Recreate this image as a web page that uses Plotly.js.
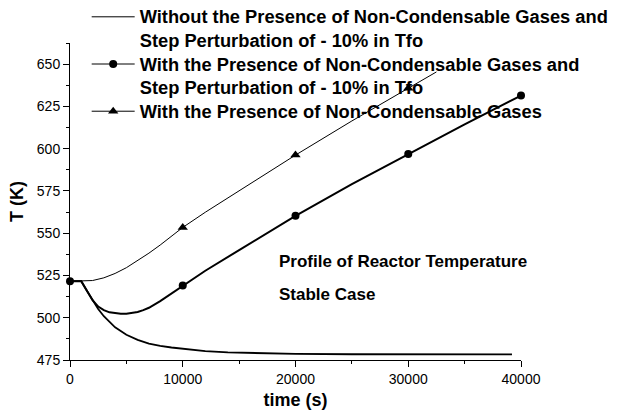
<!DOCTYPE html>
<html>
<head>
<meta charset="utf-8">
<script src="https://cdn.plot.ly/plotly-3.0.1.min.js"></script>
<style>
html,body{margin:0;padding:0;background:#fff;}
#chart{width:626px;height:410px;}
#chart .legend .legendtext{font-size:18.3px !important;}
#chart .legend .scrollbox{clip-path:none !important;}
</style>
</head>
<body>
<div id="chart"></div>
<script>
// Series 1: Without NCG, step perturbation -10% in Tfo
const timeWithout = [0, 1000, 1500, 2000, 2500, 3000, 3500, 4000, 5000, 6000, 7000, 8000, 9000, 10000, 12000, 14000, 17000, 20000, 25000, 30000, 39200];
const tempWithout = [521.6, 521.6, 516.0, 510.3, 505.2, 500.9, 497.3, 494.3, 489.9, 486.9, 484.7, 483.3, 482.4, 481.6, 480.3, 479.5, 478.9, 478.6, 478.4, 478.3, 478.3];

// Series 2: With NCG and step perturbation -10% in Tfo (circles)
const timeWithPert = [0, 1000, 1500, 2000, 2500, 3000, 3500, 4000, 4500, 5000, 5500, 6000, 6500, 7000, 8000, 9000, 10000, 12000, 15000, 20000, 25000, 30000, 35000, 40000];
const tempWithPert = [521.6, 521.6, 516.0, 510.4, 506.6, 504.5, 503.2, 502.6, 502.3, 502.35, 502.7, 503.4, 504.5, 505.9, 509.8, 514.3, 519.1, 527.8, 540.0, 560.3, 579.0, 596.8, 614.3, 631.4];
const circleTime = [0, 10000, 20000, 30000, 40000];
const circleTemp = [521.6, 519.1, 560.3, 596.8, 631.4];

// Series 3: With NCG (triangles)
const timeWithNCG = [0, 1000, 2000, 3000, 4000, 5000, 6000, 7000, 8000, 9000, 10000, 12000, 15000, 20000, 25000, 30000, 32500];
const tempWithNCG = [521.6, 521.6, 522.0, 523.6, 526.2, 529.6, 533.7, 538.2, 543.0, 548.3, 553.4, 562.4, 575.2, 596.2, 616.4, 635.8, 645.4];
const triangleTime = [10000, 20000, 30000];
const triangleTemp = [553.4, 596.2, 635.8];

const names = [
  '<b>Without the Presence of Non-Condensable Gases and<br>Step Perturbation of - 10% in Tfo</b>',
  '<b>With the Presence of Non-Condensable Gases and<br>Step Perturbation of - 10% in Tfo</b>',
  '<b>With the Presence of Non-Condensable Gases</b>'
];
const annoTexts = ['<b>Profile of Reactor Temperature</b>', '<b>Stable Case</b>'];

const traces = [
  {x: timeWithNCG, y: tempWithNCG, mode: 'lines', line: {color: '#000', width: 1}, showlegend: false},
  {x: timeWithout, y: tempWithout, mode: 'lines', line: {color: '#000', width: 1.8}, showlegend: false},
  {x: timeWithPert, y: tempWithPert, mode: 'lines', line: {color: '#000', width: 2}, showlegend: false},
  {x: triangleTime, y: triangleTemp, mode: 'markers', marker: {symbol: 'triangle-up', size: 9, color: '#000'}, showlegend: false, cliponaxis: false},
  {x: circleTime, y: circleTemp, mode: 'markers', marker: {symbol: 'circle', size: 8, color: '#000'}, showlegend: false, cliponaxis: false},
  // legend entries
  {x: [null], y: [null], mode: 'lines', name: names[0], line: {color: '#000', width: 1}},
  {x: [null], y: [null], mode: 'lines+markers', name: names[1], line: {color: '#000', width: 1}, marker: {symbol: 'circle', size: 8, color: '#000'}},
  {x: [null], y: [null], mode: 'lines+markers', name: names[2], line: {color: '#000', width: 1}, marker: {symbol: 'triangle-up', size: 9, color: '#000'}}
];

const layout = {
  width: 626, height: 410,
  margin: {l: 70, r: 105, t: 43, b: 50, pad: 0, autoexpand: false},
  paper_bgcolor: '#fff', plot_bgcolor: '#fff',
  font: {family: '"Liberation Sans", Arial, sans-serif', color: '#000', size: 14},
  xaxis: {
    range: [0, 40000], tick0: 0, dtick: 10000, tickformat: 'd',
    ticks: 'outside', ticklen: 6, tickwidth: 1, tickcolor: '#000',
    showline: true, linecolor: '#000', linewidth: 1,
    showgrid: false, zeroline: false,
    minor: {dtick: 5000, ticks: 'outside', ticklen: 3, tickcolor: '#000', showgrid: false},
    tickfont: {size: 14},
    title: {text: '<b>time (s)</b>', font: {size: 18}, standoff: 8}
  },
  yaxis: {
    range: [475, 662.5], tick0: 475, dtick: 25,
    ticks: 'outside', ticklen: 6, tickwidth: 1, tickcolor: '#000',
    showline: true, linecolor: '#000', linewidth: 1,
    showgrid: false, zeroline: false,
    minor: {dtick: 12.5, ticks: 'outside', ticklen: 3, tickcolor: '#000', showgrid: false},
    tickfont: {size: 14},
    title: {text: '<b>T (K)</b>', font: {size: 18}, standoff: 8}
  },
  legend: {
    x: 0.037, y: 1.138, xanchor: 'left', yanchor: 'top',
    bgcolor: 'rgba(0,0,0,0)', borderwidth: 0,
    font: {size: 17, color: '#000'}, valign: 'top', itemwidth: 43,
    tracegroupgap: 0
  },
  annotations: [
    {x: 18356, y: 533, xref: 'x', yref: 'y', text: annoTexts[0], showarrow: false, xanchor: 'left', yanchor: 'middle', font: {size: 17}},
    {x: 18356, y: 514, xref: 'x', yref: 'y', text: annoTexts[1], showarrow: false, xanchor: 'left', yanchor: 'middle', font: {size: 17}}
  ],
  showlegend: true
};

Plotly.newPlot('chart', traces, layout, {staticPlot: true, displayModeBar: false});
</script>
</body>
</html>
